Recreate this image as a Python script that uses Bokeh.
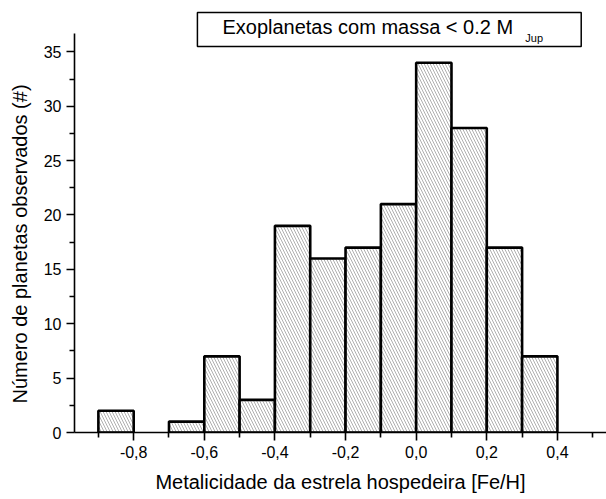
from bokeh.plotting import figure
from bokeh.models import Range1d, FixedTicker, Label, ColumnDataSource, CustomJSTickFormatter, Title
from bokeh.embed import file_html
from bokeh.resources import INLINE

# Histogram of host-star metallicity, bins of 0.1 dex
bin_left = [-0.9, -0.8, -0.7, -0.6, -0.5, -0.4, -0.3, -0.2, -0.1, 0.0, 0.1, 0.2, 0.3]
counts = [2, 0, 1, 7, 3, 19, 16, 17, 21, 34, 28, 17, 7]
bin_width = 0.1

x_major_ticks = [-0.8, -0.6, -0.4, -0.2, 0.0, 0.2, 0.4]
x_minor_ticks = [-0.9, -0.7, -0.5, -0.3, -0.1, 0.1, 0.3, 0.5]
y_major_ticks = [0, 5, 10, 15, 20, 25, 30, 35]
y_minor_ticks = [2.5, 7.5, 12.5, 17.5, 22.5, 27.5, 32.5]

title_main = "Exoplanetas com massa < 0.2 M"
title_sub = "Jup"
x_title = "Metalicidade da estrela hospedeira [Fe/H]"
y_title = "Número de planetas observados (#)"

FONT = "Liberation Sans"

# only non-empty bins get a bar
keep = [i for i, c in enumerate(counts) if c > 0]
src = ColumnDataSource(dict(
    left=[bin_left[i] for i in keep],
    right=[bin_left[i] + bin_width for i in keep],
    top=[counts[i] for i in keep],
    bottom=[0] * len(keep),
))

p = figure(
    width=606, height=499,
    x_range=Range1d(-0.9676, 0.539),
    y_range=Range1d(0, 39.72),
    output_backend="svg", toolbar_location=None,
    min_border_left=74, min_border_right=0, min_border_top=0, min_border_bottom=67,
)
p.outline_line_color = None
p.xgrid.visible = False
p.ygrid.visible = False
p.background_fill_color = "white"
p.border_fill_color = "white"

p.quad(left="left", right="right", top="top", bottom="bottom", source=src,
       fill_color="white", line_color="black", line_width=2.6,
       hatch_pattern="\\", hatch_color="#9a9a9a", hatch_weight=0.8, hatch_scale=6)

for ax in (p.xaxis[0], p.yaxis[0]):
    ax.axis_line_width = 1.6
    ax.major_tick_line_width = 1.6
    ax.minor_tick_line_width = 1.6
    ax.major_tick_in = 0
    ax.major_tick_out = 8
    ax.minor_tick_in = 0
    ax.minor_tick_out = 5
    ax.major_label_text_font = FONT
    ax.major_label_text_font_size = "16px"
    ax.major_label_text_color = "black"
    ax.axis_label_text_font = FONT
    ax.axis_label_text_font_size = "20px"
    ax.axis_label_text_font_style = "normal"
    ax.axis_label_text_color = "black"

xax = p.xaxis[0]
xax.ticker = FixedTicker(ticks=x_major_ticks, minor_ticks=x_minor_ticks)
xax.formatter = CustomJSTickFormatter(code="return tick.toFixed(1).replace('.', ',');")
xax.major_label_standoff = 5
xax.axis_label = x_title
xax.axis_label_standoff = 10

yax = p.yaxis[0]
yax.ticker = FixedTicker(ticks=y_major_ticks, minor_ticks=y_minor_ticks)
yax.bounds = (0, 36.7)
yax.major_label_standoff = 5

# vertical axis title, anchored near the bottom of the left panel
p.add_layout(Title(text=y_title, align="left", offset=29, vertical_align="top",
                   text_font=FONT, text_font_size="20px", text_font_style="normal",
                   text_color="black", standoff=16), "left")

# boxed caption with subscript
p.quad(left=[-0.6195], right=[0.4674], top=[38.62], bottom=[35.49],
       fill_color="white", line_color="black", line_width=1.5)
p.add_layout(Label(x=-0.5487, y=37.24, text=title_main, text_align="left",
                   text_baseline="alphabetic", text_font=FONT,
                   text_font_size="20px", text_color="black"))
p.add_layout(Label(x=0.309, y=36.31, text=title_sub, text_align="left",
                   text_baseline="alphabetic", text_font=FONT,
                   text_font_size="11px", text_color="black"))

open("out.html", "w").write(file_html(p, INLINE))
